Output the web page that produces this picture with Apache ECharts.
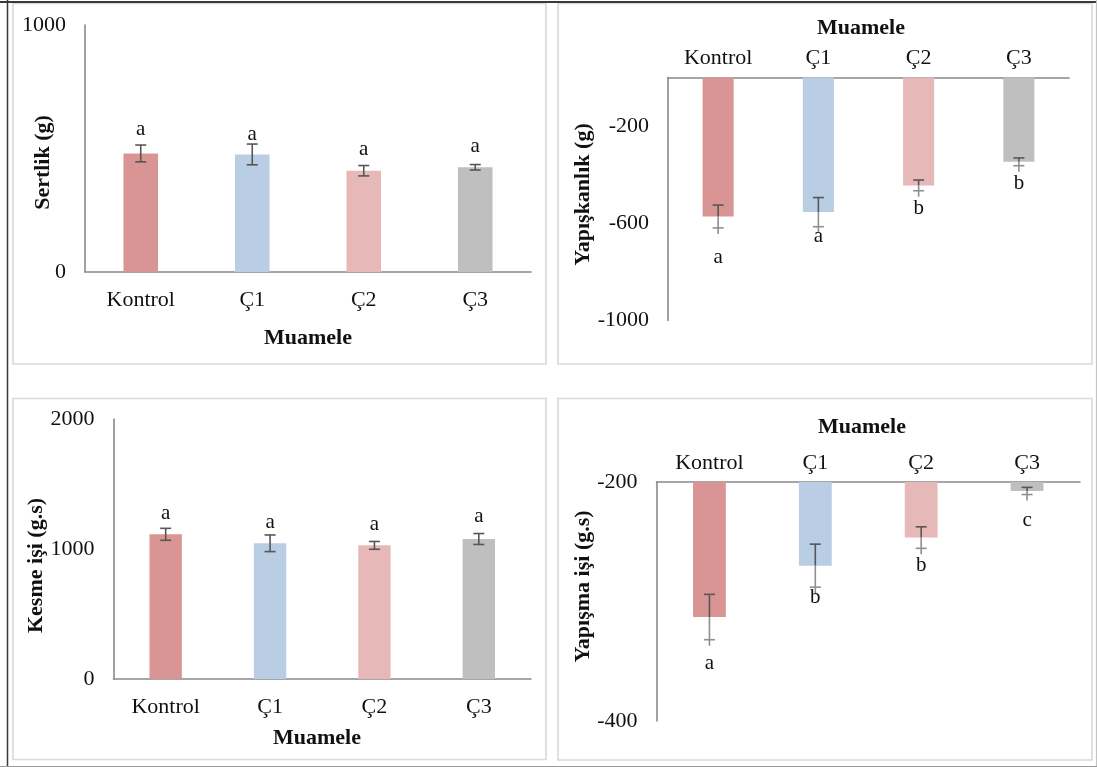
<!DOCTYPE html>
<html><head><meta charset="utf-8">
<script src="https://cdn.jsdelivr.net/npm/echarts@6/dist/echarts.min.js"></script>
<style>html,body{margin:0;padding:0;background:#fff}#c{width:1097px;height:767px}</style>
</head><body><div id="c"></div>
<script>
// ---------------- data ----------------
const categories = ['Kontrol', 'Ç1', 'Ç2', 'Ç3'];
const barColors = ['#d99594', '#b9cde5', '#e6b9b8', '#bfbfbf'];

const sertlik = [480, 476, 410, 424];
const sertlikErr = [34, 42, 21, 11];
const sertlikLetters = ['a', 'a', 'a', 'a'];

const yapiskanlik = [-572, -554, -444, -347];
const yapiskanlikErr = [47, 60, 22, 16];
const yapiskanlikLetters = ['a', 'a', 'b', 'b'];

const kesme = [1113, 1044, 1028, 1077];
const kesmeErr = [46, 64, 30, 42];
const kesmeLetters = ['a', 'a', 'a', 'a'];

const yapisma = [-313, -270, -246.5, -207.5];
const yapismaErr = [19, 18, 9, 3];
const yapismaLetters = ['a', 'b', 'b', 'c'];

const sertlikTicks = [0, 1000];
const yapiskanlikTicks = [-1000, -600, -200];
const kesmeTicks = [0, 1000, 2000];
const yapismaTicks = [-400, -200];

// ---------------- style / layout ----------------
const FONT = '"Liberation Serif", "Times New Roman", serif';
const AXIS_COLOR = '#898989';
const TXT = '#111';

const panels = [
  { vals: sertlik, errs: sertlikErr, letters: sertlikLetters, ticks: sertlikTicks, neg: false,
    grid: { left: 85, top: 25, width: 446, height: 247 }, min: 0, max: 1000, interval: 1000,
    xPos: 'bottom', gap: [16, 10, 16, 18] },
  { vals: yapiskanlik, errs: yapiskanlikErr, letters: yapiskanlikLetters, ticks: yapiskanlikTicks, neg: true,
    grid: { left: 668, top: 77.5, width: 401, height: 243 }, min: -1000, max: 0, interval: 200,
    xPos: 'top', gap: [30, 10, 18, 18] },
  { vals: kesme, errs: kesmeErr, letters: kesmeLetters, ticks: kesmeTicks, neg: false,
    grid: { left: 113.5, top: 419, width: 417.5, height: 260 }, min: 0, max: 2000, interval: 1000,
    xPos: 'bottom', gap: [15, 12, 17, 17] },
  { vals: yapisma, errs: yapismaErr, letters: yapismaLetters, ticks: yapismaTicks, neg: true,
    grid: { left: 656.5, top: 482, width: 423.5, height: 239 }, min: -400, max: -200, interval: 200,
    xPos: 'top', gap: [24, 10, 17, 26] }
];

function makeErrRender(p) {
  return function (params, api) {
    const i = params.dataIndex;
    const x = api.value(0), v = api.value(1), e = api.value(2);
    const pv = api.coord([x, v]);
    const pNear = api.coord([x, p.neg ? v + e : v + e]);
    const pFar = api.coord([x, v - e]);
    const hw = 5.5;
    const dark = '#565656', light = '#8f8f8f';
    const ch = [];
    const ln = (x1, y1, x2, y2, c) => ({ type: 'line', shape: { x1, y1, x2, y2 },
      style: { stroke: c, lineWidth: 1.6 } });
    const cx = pv[0];
    let letterY;
    if (!p.neg) {
      ch.push(ln(cx, pNear[1], cx, pFar[1], dark));
      ch.push(ln(cx - hw, pNear[1], cx + hw, pNear[1], dark));
      ch.push(ln(cx - hw, pFar[1], cx + hw, pFar[1], dark));
      letterY = pNear[1] - p.gap[i];
    } else {
      // near-axis end (v+e) is dark, part beyond the bar end is lighter
      ch.push(ln(cx, pNear[1], cx, pv[1], dark));
      ch.push(ln(cx - hw, pNear[1], cx + hw, pNear[1], dark));
      ch.push(ln(cx, pv[1], cx, pFar[1] + 6, light));
      ch.push(ln(cx - hw, pFar[1], cx + hw, pFar[1], light));
      letterY = pFar[1] + p.gap[i];
    }
    ch.push({ type: 'text', x: cx, y: letterY,
      style: { text: p.letters[i], fill: TXT, font: '21px ' + FONT, align: 'center', verticalAlign: 'middle' } });
    return { type: 'group', children: ch };
  };
}

const grids = [], xAxes = [], yAxes = [], series = [];
panels.forEach((p, k) => {
  grids.push(Object.assign({ containLabel: false }, p.grid));
  xAxes.push({
    type: 'category', gridIndex: k, data: categories, position: p.xPos,
    axisLine: { onZero: false, lineStyle: { color: AXIS_COLOR, width: 1.6 } },
    axisTick: { show: false },
    axisLabel: { color: TXT, fontFamily: FONT, fontSize: 22, margin: p.xPos === 'top' ? 8 : 17 },
    splitLine: { show: false }
  });
  yAxes.push({
    type: 'value', gridIndex: k, min: p.min, max: p.max, interval: p.interval,
    axisLine: { show: true, lineStyle: { color: AXIS_COLOR, width: 1.6 } },
    axisTick: { show: false }, splitLine: { show: false },
    axisLabel: { color: TXT, fontFamily: FONT, fontSize: 22, margin: 19,
      formatter: (val) => (p.ticks.indexOf(val) >= 0 ? String(val) : '') }
  });
  series.push({
    type: 'bar', xAxisIndex: k, yAxisIndex: k, barWidth: '31%', clip: true,
    data: p.vals.map((v, i) => ({ value: v, itemStyle: { color: barColors[i] } })),
    silent: true, animation: false
  });
  series.push({
    type: 'custom', xAxisIndex: k, yAxisIndex: k, renderItem: makeErrRender(p), clip: false,
    data: p.vals.map((v, i) => [i, v, p.errs[i]]), z: 5, silent: true, animation: false
  });
});

const titleFont = 'bold 22px ' + FONT;
const txt = (text, x, y, rot) => ({ type: 'text', x, y, rotation: rot || 0, z: 10,
  style: { text, font: titleFont, fill: TXT, align: 'center', verticalAlign: 'middle' } });
const rect = (x, y, w, h) => ({ type: 'rect', shape: { x, y, width: w, height: h }, z: 0,
  style: { fill: 'none', stroke: '#d9d9d9', lineWidth: 1.6 } });
const gline = (x1, y1, x2, y2, c, w) => ({ type: 'line', shape: { x1, y1, x2, y2 }, z: 1,
  style: { stroke: c, lineWidth: w } });

const graphic = [
  rect(13, 3.5, 533, 360.5), rect(558, 3.5, 534, 360.5),
  rect(13, 398.5, 533, 361), rect(558, 398.5, 534, 361.5),
  gline(0, 2, 1097, 2, '#3a3a3a', 2),
  gline(7.5, 0, 7.5, 767, '#3a3a3a', 1.5),
  gline(1096.5, 0, 1096.5, 767, '#c4c4c4', 1.2),
  gline(0, 766.5, 1097, 766.5, '#9a9a9a', 1.2),
  txt('Muamele', 308, 338), txt('Muamele', 861, 28),
  txt('Muamele', 317, 738), txt('Muamele', 862, 427),
  txt('Sertlik (g)', 43.5, 162.5, Math.PI / 2),
  txt('Yapışkanlık (g)', 583, 194.5, Math.PI / 2),
  txt('Kesme işi (g.s)', 36, 565.5, Math.PI / 2),
  txt('Yapışma işi (g.s)', 583, 586.5, Math.PI / 2)
];

const chart = echarts.init(document.getElementById('c'), null, { renderer: 'canvas' });
chart.setOption({
  backgroundColor: '#fff', animation: false,
  grid: grids, xAxis: xAxes, yAxis: yAxes, series, graphic
});
</script></body></html>
